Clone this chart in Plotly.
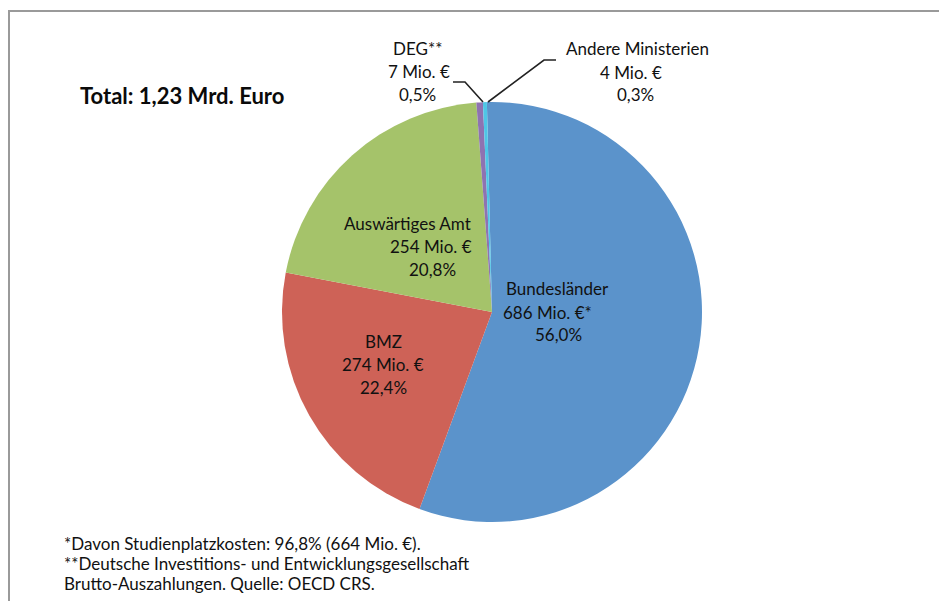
import plotly.graph_objects as go

# ---- data ----
categories = ["Bundesländer", "BMZ", "Auswärtiges Amt", "DEG**", "Andere Ministerien"]
amounts_mio = [686, 274, 254, 7, 4]
amount_suffix = ["*", "", "", "", ""]
shares_pct = [56.0, 22.4, 20.8, 0.5, 0.3]
colors = ["#5B93CB", "#CE6257", "#A5C36A", "#8E73B1", "#4EC6E6"]

total_text = "Total: 1,23 Mrd. Euro"
footnotes = [
    "*Davon Studienplatzkosten: 96,8% (664 Mio. €).",
    "**Deutsche Investitions- und Entwicklungsgesellschaft",
    "Brutto-Auszahlungen. Quelle: OECD CRS.",
]

W, H = 939, 601
FONT = "Lato"
TXT = "#111111"

def px(x):
    return x / W

def py(y):
    return 1 - y / H

cx, cy, r = 492, 312, 210

fig = go.Figure(go.Pie(
    labels=categories,
    values=shares_pct,
    sort=False,
    direction="clockwise",
    rotation=-1.4,
    marker=dict(colors=colors, line=dict(width=0)),
    textinfo="none",
    hoverinfo="label+percent",
    showlegend=False,
    domain=dict(x=[px(cx - r), px(cx + r)], y=[py(cy + r), py(cy - r)]),
))

def fmt_pct(v):
    return f"{v:.1f}".replace(".", ",") + "%"

# per-line label centres (layout)
label_lines_pos = [
    [(557, 288), (547, 312), (558, 335)],
    [(383, 341), (383, 364), (383, 387)],
    [(407, 223), (431, 246), (432, 269)],
    [(417, 48), (419, 71), (417, 95)],
    [(637, 48), (631, 72), (635, 95)],
]

annotations = []
for i, name in enumerate(categories):
    lines = [name, f"{amounts_mio[i]} Mio. €{amount_suffix[i]}", fmt_pct(shares_pct[i])]
    for (x, y), t in zip(label_lines_pos[i], lines):
        annotations.append(dict(
            x=px(x), y=py(y), xref="paper", yref="paper",
            text=t, showarrow=False, xanchor="center", yanchor="middle",
            font=dict(family=FONT, size=17, color=TXT),
        ))

annotations.append(dict(
    x=px(78), y=py(96), xref="paper", yref="paper",
    text=f"<b>{total_text}</b>", showarrow=False, xanchor="left", yanchor="middle",
    font=dict(family=FONT, size=22, color="#0A0A0A"),
))

for k, t in enumerate(footnotes):
    annotations.append(dict(
        x=px(62), y=py(543 + 20 * k), xref="paper", yref="paper",
        text=t, showarrow=False, xanchor="left", yanchor="middle",
        font=dict(family=FONT, size=17, color=TXT),
    ))

def path(points):
    s = "M " + " L ".join(f"{px(x)} {py(y)}" for x, y in points)
    return s

shapes = [
    # frame (top and left border)
    dict(type="path", xref="paper", yref="paper",
         path=path([(9, 601), (9, 11), (939, 11)]),
         line=dict(color="#9A9A9A", width=2)),
    # leader line DEG
    dict(type="path", xref="paper", yref="paper",
         path=path([(453, 82), (465, 82), (483, 102)]),
         line=dict(color="#222222", width=1.6)),
    # leader line Andere Ministerien
    dict(type="path", xref="paper", yref="paper",
         path=path([(556, 60), (544, 60), (488, 102)]),
         line=dict(color="#222222", width=1.6)),
]

fig.update_layout(
    width=W, height=H,
    margin=dict(l=0, r=0, t=0, b=0),
    paper_bgcolor="white",
    plot_bgcolor="white",
    annotations=annotations,
    shapes=shapes,
)

fig.write_html(
    "out.html",
    config={"displayModeBar": False},
    post_script="document.body.style.margin='0';document.body.style.overflow='hidden';",
)
